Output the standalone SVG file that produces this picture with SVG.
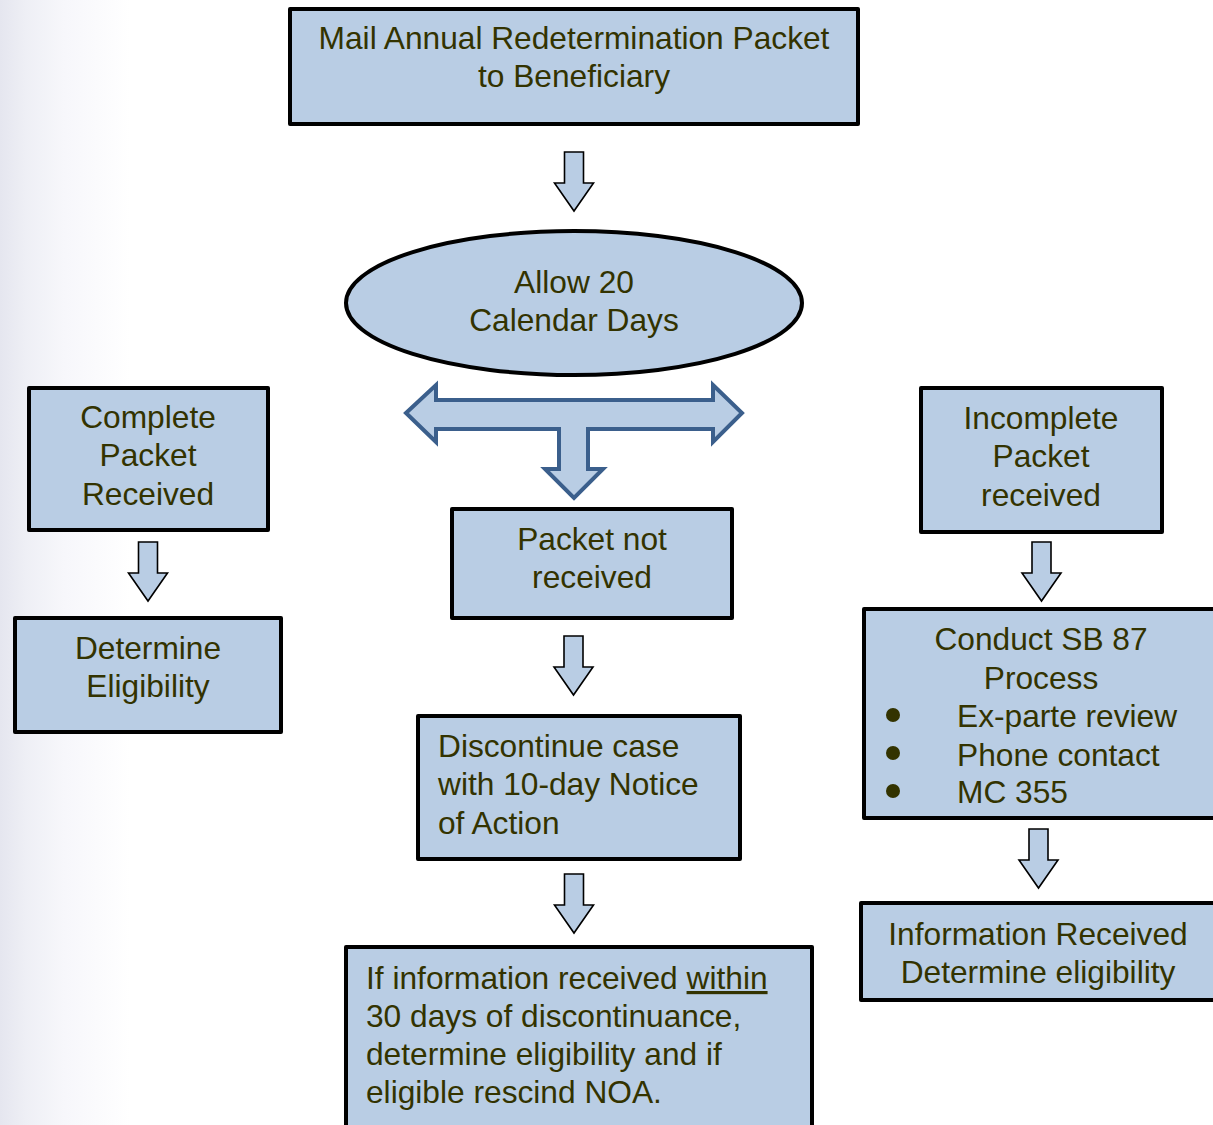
<svg xmlns="http://www.w3.org/2000/svg" width="1213" height="1125" viewBox="0 0 1213 1125">
<defs>
<linearGradient id="bg" x1="0" y1="0" x2="1" y2="0" gradientUnits="objectBoundingBox">
<stop offset="0" stop-color="#e5e6ef"/>
<stop offset="0.04" stop-color="#eeeff5"/>
<stop offset="0.1" stop-color="#f7f7fb"/>
<stop offset="0.2" stop-color="#ffffff"/>
<stop offset="1" stop-color="#ffffff"/>
</linearGradient>
<style>
.box{fill:#b9cde4;stroke:#000;stroke-width:4;stroke-linejoin:round}
.t{font-family:"Liberation Sans",Arial,sans-serif;font-size:31.7px;fill:#333300}
.c{text-anchor:middle}
.arr{fill:#b9cde4;stroke:#000;stroke-width:1.6;stroke-linejoin:miter}
.big{fill:#b9cde4;stroke:#3b5f8c;stroke-width:4;stroke-linejoin:miter}
.dot{fill:#333300}
</style>
</defs>
<rect x="0" y="0" width="650" height="1125" fill="url(#bg)"/>
<g id="connectors">
<path class="arr" d="M564.5,152 h19 v31 h10 l-19.5,28 l-19.5,-28 h10 z"/>
<path class="arr" d="M138.5,542 h19 v31 h10 l-19.5,28 l-19.5,-28 h10 z"/>
<path class="arr" d="M564,636 h19 v31 h10 l-19.5,28 l-19.5,-28 h10 z"/>
<path class="arr" d="M564.5,874 h19 v31 h10 l-19.5,28 l-19.5,-28 h10 z"/>
<path class="arr" d="M1032,542 h19 v31 h10 l-19.5,28 l-19.5,-28 h10 z"/>
<path class="arr" d="M1029,829 h19 v31 h10 l-19.5,28 l-19.5,-28 h10 z"/>
<path class="big" d="M406,413 L436,385 L436,400 L713,400 L713,385 L742,413 L713,442 L713,429 L588,429 L588,469 L603,469 L574,498 L545,469 L559,469 L559,429 L436,429 L436,442 Z"/>
</g>
<g id="mail">
<rect class="box" x="290" y="9" width="568" height="115"/>
<text class="t c" x="574" y="49">Mail Annual Redetermination Packet</text>
<text class="t c" x="574" y="87">to Beneficiary</text>
</g>
<g id="allow">
<ellipse class="box" cx="574" cy="303" rx="228" ry="72"/>
<text class="t c" x="574" y="293">Allow 20</text>
<text class="t c" x="574" y="331">Calendar Days</text>
</g>
<g id="complete">
<rect class="box" x="29" y="388" width="239" height="142"/>
<text class="t c" x="148" y="428">Complete</text>
<text class="t c" x="148" y="466">Packet</text>
<text class="t c" x="148" y="505">Received</text>
</g>
<g id="determine">
<rect class="box" x="15" y="618" width="266" height="114"/>
<text class="t c" x="148" y="659">Determine</text>
<text class="t c" x="148" y="697">Eligibility</text>
</g>
<g id="notreceived">
<rect class="box" x="452" y="509" width="280" height="109"/>
<text class="t c" x="592" y="550">Packet not</text>
<text class="t c" x="592" y="588">received</text>
</g>
<g id="discontinue">
<rect class="box" x="418" y="716" width="322" height="143"/>
<text class="t" x="438" y="757">Discontinue case</text>
<text class="t" x="438" y="795">with 10-day Notice</text>
<text class="t" x="438" y="834">of Action</text>
</g>
<g id="ifinfo">
<rect class="box" x="346" y="947" width="466" height="190"/>
<text class="t" x="366" y="989">If information received <tspan text-decoration="underline">within</tspan></text>
<text class="t" x="366" y="1027">30 days of discontinuance,</text>
<text class="t" x="366" y="1065">determine eligibility and if</text>
<text class="t" x="366" y="1103">eligible rescind NOA.</text>
</g>
<g id="incomplete">
<rect class="box" x="921" y="388" width="241" height="144"/>
<text class="t c" x="1041" y="429">Incomplete</text>
<text class="t c" x="1041" y="467">Packet</text>
<text class="t c" x="1041" y="506">received</text>
</g>
<g id="conduct">
<rect class="box" x="864" y="609" width="360" height="209"/>
<text class="t c" x="1041" y="650">Conduct SB 87</text>
<text class="t c" x="1041" y="689">Process</text>
<circle class="dot" cx="893" cy="715" r="7"/>
<circle class="dot" cx="893" cy="753" r="7"/>
<circle class="dot" cx="893" cy="791" r="7"/>
<text class="t" x="957" y="727">Ex-parte review</text>
<text class="t" x="957" y="766">Phone contact</text>
<text class="t" x="957" y="803">MC 355</text>
</g>
<g id="inforeceived">
<rect class="box" x="861" y="903" width="360" height="97"/>
<text class="t c" x="1038" y="945">Information Received</text>
<text class="t c" x="1038" y="983">Determine eligibility</text>
</g>
</svg>
